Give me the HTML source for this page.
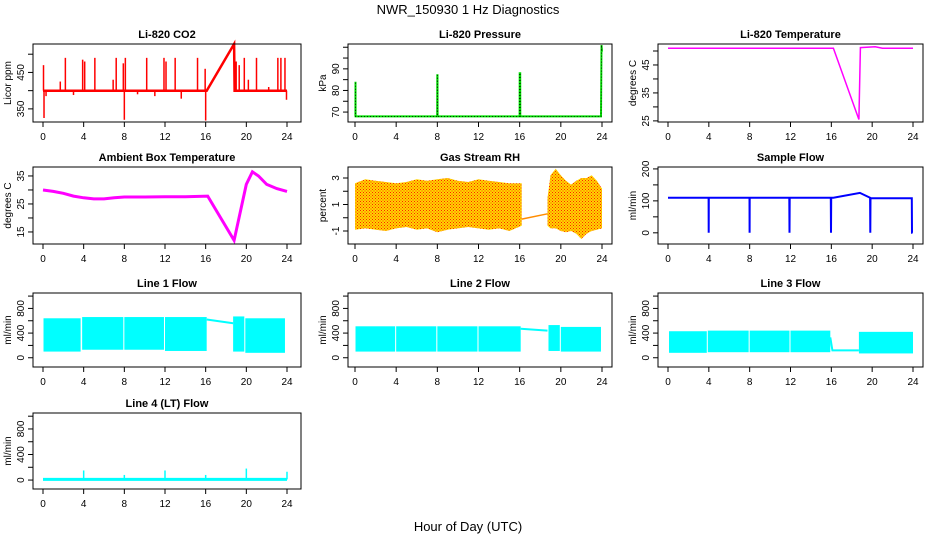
<!DOCTYPE html>
<html><head><meta charset="utf-8"><style>
html,body{margin:0;padding:0;background:#fff;}
svg text{font-family:"Liberation Sans",sans-serif;}
</style></head><body>
<svg id="c" width="936" height="540" xmlns="http://www.w3.org/2000/svg">
<defs>
<pattern id="rhpat" width="3" height="3" patternUnits="userSpaceOnUse">
<rect width="3" height="3" fill="#ffd700"/><rect width="1" height="1" fill="#ff2000"/><rect x="1.5" y="1.5" width="1" height="1" fill="#ff3000"/>
</pattern>
</defs>
<text x="468" y="14" text-anchor="middle" font-size="13">NWR_150930  1 Hz Diagnostics</text>
<text x="468" y="531" text-anchor="middle" font-size="13">Hour of Day (UTC)</text>
</svg>
<script>
// ---- data ----
const xTicks=[0,4,8,12,16,20,24];
// CO2
const co2BaseT=[0,16.1,18.8,18.85,24];
const co2BaseV=[400,400,528,400,400];
const co2SpikeT=[0.05,0.1,0.3,1.7,2.2,3.0,3.9,4.1,5.1,6.9,7.2,7.9,8.0,8.1,9.3,10.2,11.0,11.9,12.1,13.0,13.6,15.2,15.95,16.0,19.0,19.3,19.8,20.2,21.0,22.2,23.1,23.4,23.8,23.95];
const co2SpikeV=[470,325,385,425,490,388,485,480,490,430,490,475,320,490,390,490,385,490,480,490,378,490,460,318,480,470,490,430,490,410,490,490,490,375];
// Pressure
const presT=[0,0.04,0.05,0.06,0.2,7.99,8.0,8.02,8.03,15.99,16.0,16.05,16.06,23.9,23.95,24];
const presV=[68,68,84,68,68,68,87,87,68,68,88,88,68,68,101,98];
// Li-820 temperature
const tempT=[0,16.2,18.7,18.85,20.3,21,24];
const tempV=[51,51,25.5,51.2,51.5,51,51];
// Ambient
const ambT=[0,1,2,3,4,5,6,7,8,10,12,14,16.2,18.8,20,20.6,21.2,22,23,24];
const ambV=[30,29.5,28.8,27.8,27.2,26.8,26.8,27.2,27.5,27.5,27.6,27.6,27.8,12,32,36.5,35,32,30.5,29.5];
// RH
const rhT1=[0,1,2,3,4,5,6,7,8,9,10,11,12,13,14,15,16.2];
const rhHi1=[2.6,2.9,2.8,2.7,2.6,2.7,2.9,2.8,2.9,3.0,2.8,2.7,2.9,2.8,2.7,2.6,2.6];
const rhLo1=[-0.9,-0.8,-0.9,-1.0,-0.8,-0.7,-0.9,-0.8,-1.1,-0.9,-0.8,-0.7,-0.8,-0.9,-0.8,-1.0,-0.6];
const rhT2=[18.7,19,19.5,20,20.5,21,21.5,22,22.5,23,23.5,24];
const rhHi2=[1.5,3.2,3.7,3.2,2.8,2.5,2.8,3.0,3.0,3.2,2.8,2.2];
const rhLo2=[-0.6,-0.8,-0.8,-1.0,-1.1,-1.0,-1.2,-1.6,-1.2,-1.0,-0.9,-0.8];
const rhGapT=[16.2,18.7];
const rhGapV=[-0.1,0.3];
// Sample flow
const sfT=[0,3.98,3.99,4.0,4.01,7.98,7.99,8.0,8.01,11.88,11.9,11.92,15.95,15.97,15.99,16.2,18.8,19.8,19.82,19.84,19.86,23.88,23.9,23.95];
const sfV=[110,110,0,110,110,110,0,110,110,110,0,110,110,0,110,110,125,110,0,108,108,108,0,0];
// Line flows: segments
const l1Start=[0.05,3.85,8.0,12.0,18.7,19.9];
const l1End=[3.7,7.9,11.9,16.1,19.8,23.8];
const l1Lo=[100,130,130,110,100,80];
const l1Hi=[640,660,660,660,670,640];
const l1LineT=[16.1,18.7];
const l1LineV=[620,560];
const l2Start=[0.05,4.0,8.0,12.0,18.8,20.0];
const l2End=[3.9,7.9,11.9,16.1,19.9,23.9];
const l2Lo=[100,100,100,100,110,100];
const l2Hi=[510,510,510,510,530,500];
const l2LineT=[16.1,18.7];
const l2LineV=[470,440];
const l3Start=[0.1,3.9,8.0,12.0,18.7];
const l3End=[3.8,7.9,11.9,15.9,24];
const l3Lo=[80,90,90,90,70];
const l3Hi=[430,440,440,440,420];
const l3LineT=[15.9,16.1,18.7];
const l3LineV=[330,120,120];
const l4BaseT=[0,24];
const l4BaseV=[10,10];
const l4SpikeT=[4,8,12,16,20,24];
const l4SpikeV=[150,80,150,80,180,130];

// ---- layout ----
const NS='http://www.w3.org/2000/svg';
const svg=document.getElementById('c');
const cols=[{x0:33,x1:301,t0:43,t24:287},{x0:348,x1:612,t0:355,t24:602},{x0:658,x1:923,t0:668,t24:913}];
const rows=[{y0:44,y1:122},{y0:167,y1:244},{y0:293,y1:367},{y0:413,y1:489}];
function mk(tag,attrs,parent){const e=document.createElementNS(NS,tag);for(const k in attrs)e.setAttribute(k,attrs[k]);(parent||svg).appendChild(e);return e;}
function panel(name,title,ytitle,col,row,dom,yt,ylab){
  const c=cols[col],r=rows[row];
  const g=mk('g',{});
  
  
  const sx=t=>c.t0+(c.t24-c.t0)*t/24;
  const sy=v=>r.y1-(v-dom[0])/(dom[1]-dom[0])*(r.y1-r.y0);
  const tt=mk('text',{x:(c.x0+c.x1)/2,y:r.y0-6,'text-anchor':'middle','font-size':'11','font-weight':'bold'},g);
  tt.textContent=title;
  
  
  const plot=mk('g',{},g);
  
  
  const box=mk('rect',{x:c.x0,y:r.y0,width:c.x1-c.x0,height:r.y1-r.y0,fill:'none',stroke:'#000','stroke-width':1},g);
  
  
  const xa=mk('g',{},g);
  
  
  mk('line',{x1:sx(0),x2:sx(24),y1:r.y1,y2:r.y1,stroke:'#000'},xa);
  xTicks.forEach(t=>{mk('line',{x1:sx(t),x2:sx(t),y1:r.y1,y2:r.y1+5,stroke:'#000'},xa);
    const l=mk('text',{x:sx(t),y:r.y1+18,'text-anchor':'middle','font-size':'10'},xa);l.textContent=t;});
  const ya=mk('g',{},g);
  
  
  mk('line',{x1:c.x0,x2:c.x0,y1:sy(yt[0]),y2:sy(yt[yt.length-1]),stroke:'#000'},ya);
  yt.forEach(v=>{mk('line',{x1:c.x0-5,x2:c.x0,y1:sy(v),y2:sy(v),stroke:'#000'},ya);
    if(ylab.indexOf(v)>=0){const l=mk('text',{x:0,y:0,'text-anchor':'middle','font-size':'10',transform:`translate(${c.x0-9},${sy(v)}) rotate(-90)`},ya);l.textContent=v;}});
  const yl=mk('text',{x:0,y:0,'text-anchor':'middle','font-size':'10',transform:`translate(${c.x0-22},${(r.y0+r.y1)/2}) rotate(-90)`},g);
  yl.textContent=ytitle;
  
  
  return {sx,sy,plot};
}
function line(p,T,V,col,w,extra){const d=T.map((t,i)=>(i?'L':'M')+p.sx(t).toFixed(1)+','+p.sy(V[i]).toFixed(1)).join('');
  const e=mk('path',Object.assign({d,fill:'none',stroke:col,'stroke-width':w||1},extra||{}),p.plot);return e;}
function spikes(p,T,V,base,col,w){T.forEach((t,i)=>{const e=mk('line',{x1:p.sx(t),x2:p.sx(t),y1:p.sy(base),y2:p.sy(V[i]),stroke:col,'stroke-width':w||1.5},p.plot);
  
  });}
function band(p,T,Hi,Lo,fill){let d='M'+T.map((t,i)=>p.sx(t).toFixed(1)+','+p.sy(Hi[i]).toFixed(1)).join('L');
  for(let i=T.length-1;i>=0;i--)d+='L'+p.sx(T[i]).toFixed(1)+','+p.sy(Lo[i]).toFixed(1);
  const e=mk('path',{d:d+'Z',fill,stroke:'none'},p.plot);
  
  }
function segs(p,S,E,Lo,Hi,col){S.forEach((s,i)=>{const e=mk('rect',{x:p.sx(s),y:p.sy(Hi[i]),width:Math.max(1,p.sx(E[i])-p.sx(s)),height:p.sy(Lo[i])-p.sy(Hi[i]),fill:col},p.plot);
  
  });}

// CO2
let p=panel('co2','Li-820 CO2','Licor ppm',0,0,[314,528],[350,400,450,500],[350,450]);
spikes(p,co2SpikeT,co2SpikeV,400,'#ff0000',1.5);
line(p,co2BaseT,co2BaseV,'#ff0000',2.5);
// Pressure
p=panel('pressure','Li-820 Pressure','kPa',1,0,[65.4,101.5],[70,75,80,85,90,95,100],[70,80,90]);
line(p,presT,presV,'#00e000',2);
line(p,presT,presV,'#000',0.8,{'stroke-dasharray':'1,2'});
// Temp
p=panel('li820-temp','Li-820 Temperature','degrees C',2,0,[24.6,52.5],[25,30,35,40,45,50],[25,35,45]);
line(p,tempT,tempV,'#ff00ff',1.5);
// Ambient
p=panel('ambient-temp','Ambient Box Temperature','degrees C',0,1,[10.7,38.2],[15,20,25,30,35],[15,25,35]);
line(p,ambT,ambV,'#ff00ff',3);
// RH
p=panel('rh','Gas Stream RH','percent',1,1,[-1.98,3.83],[-1,0,1,2,3],[-1,1,3]);
band(p,rhT1,rhHi1,rhLo1,'url(#rhpat)');
band(p,rhT2,rhHi2,rhLo2,'url(#rhpat)');
line(p,rhGapT,rhGapV,'#ff8c00',1.5);
// Sample flow
p=panel('sample-flow','Sample Flow','ml/min',2,1,[-35,206],[0,50,100,150,200],[0,100,200]);
line(p,sfT,sfV,'#0000ff',2);
// Line flows
const fd=[-150,1050],ft=[0,200,400,600,800,1000],fl=[0,400,800];
p=panel('line1-flow','Line 1 Flow','ml/min',0,2,fd,ft,fl);
segs(p,l1Start,l1End,l1Lo,l1Hi,'#00ffff');line(p,l1LineT,l1LineV,'#00ffff',2);
p=panel('line2-flow','Line 2 Flow','ml/min',1,2,fd,ft,fl);
segs(p,l2Start,l2End,l2Lo,l2Hi,'#00ffff');line(p,l2LineT,l2LineV,'#00ffff',2);
p=panel('line3-flow','Line 3 Flow','ml/min',2,2,fd,ft,fl);
segs(p,l3Start,l3End,l3Lo,l3Hi,'#00ffff');line(p,l3LineT,l3LineV,'#00ffff',2);
p=panel('line4-flow','Line 4 (LT) Flow','ml/min',0,3,[-140,1050],ft,fl);
line(p,l4BaseT,l4BaseV,'#00ffff',3);spikes(p,l4SpikeT,l4SpikeV,10,'#00ffff',1.5);
</script>
</body></html>
